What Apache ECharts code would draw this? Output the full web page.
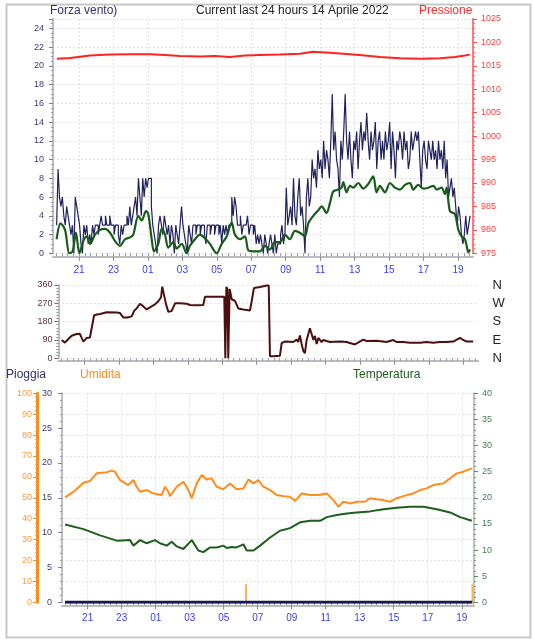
<!DOCTYPE html>
<html><head><meta charset="utf-8">
<script src="https://cdn.jsdelivr.net/npm/echarts@6/dist/echarts.min.js"></script>
<style>html,body{margin:0;padding:0;background:#fff}#c{width:534px;height:640px}</style>
</head><body><div id="c"></div>
<script>
// ---------- DATA (hours: 19.7 = 19:42 day 1, 24+ = next day) ----------
const hourTicks = [21, 23, 25, 27, 29, 31, 33, 35, 37, 39, 41, 43];
const pressure = [[19.72,1016.5],[20.48,1016.7],[21.64,1017.2],[22.8,1017.4],[23.96,1017.5],[25.12,1017.5],[25.99,1017.3],[26.86,1017.1],[28.02,1017.0],[28.89,1017.1],[29.76,1016.9],[30.63,1017.2],[31.5,1017.3],[32.66,1017.4],[33.83,1017.6],[34.58,1018.0],[35.57,1017.8],[36.73,1017.5],[37.6,1017.2],[38.47,1016.9],[39.63,1016.6],[40.79,1016.5],[41.95,1016.6],[42.82,1016.9],[43.4,1017.2],[43.69,1017.4]];
const windStart = 19.7, windStep = 1 / 12;
const windGust = [
 3,9,6,5,6,4,3,5,4,3,2,3,  0,6,5,4,3,1,0,3,2,3,1,2,  1,3,2,3,3,2,3,4,3,3,4,3,  3,4,3,3,2,3,3,2,1,3,2,3,
 3,4,3,5,3,4,5,6,4,8,6,4,  8,6,8,7,8,8,5,3,2,1,0,3,  4,3,2,4,3,2,3,1,3,2,0,3,  2,1,3,5,3,2,1,0,3,2,1,3,
 3,2,3,3,2,3,3,2,1,3,3,2,  3,3,2,3,3,2,3,1,3,2,3,2,  3,3,6,4,6,5,3,3,4,2,3,3,  3,4,2,3,3,2,3,1,2,1,2,1,
 0,2,1,0,1,2,1,0,2,0,1,1,  2,3,1,2,7,3,4,5,3,8,4,3,  6,8,4,5,3,0,6,8,5,6,10,8,  9,7,11,9,10,8,12,9,11,10,8,12,
 17,11,13,10,9,6,12,10,13,17,12,10,  13,10,8,12,11,13,9,12,14,11,13,12,  15,12,10,13,11,12,14,9,12,13,10,12,  10,13,11,12,14,9,13,11,8,12,11,13,
 12,10,13,11,12,9,10,13,11,12,13,12,  13,10,7,11,12,10,9,12,11,10,12,10,  11,9,12,10,11,9,12,8,10,6,7,8,  6,7,5,3,5,4,2,1,2,4,2,3,4];
const windAvg = [[19.70,1.5],[19.93,3.2],[20.19,2.5],[20.44,0],[20.63,0.2],[20.82,2.2],[21.02,0],[21.25,1.3],[21.44,1.8],[21.64,1.0],[21.93,2.0],[22.22,2.5],[22.51,2.6],[22.80,2.2],[23.09,1.3],[23.38,0.8],[23.67,1.5],[23.96,1.7],[24.15,2.0],[24.44,4.0],[24.64,3.5],[24.89,4.5],[25.02,4.2],[25.22,1.5],[25.35,0.2],[25.60,1.0],[25.80,2.6],[25.99,2.0],[26.18,0.6],[26.47,1.2],[26.67,0.5],[26.96,1.0],[27.25,0],[27.44,0.8],[27.73,1.5],[28.02,2.0],[28.31,1.6],[28.60,1.0],[28.99,0],[29.28,1.0],[29.57,1.8],[29.86,3.3],[30.05,2.0],[30.34,1.5],[30.63,1.8],[30.83,0.3],[31.12,0.2],[31.50,0.2],[31.79,0.8],[32.08,0.4],[32.37,1.2],[32.66,1.2],[32.95,2.0],[33.24,1.5],[33.53,2.4],[33.82,2.2],[34.11,1.8],[34.31,3.2],[34.60,4.0],[34.89,4.6],[35.08,5.0],[35.37,4.3],[35.57,5.4],[35.76,6.6],[36.05,6.8],[36.24,7.0],[36.34,7.6],[36.53,6.5],[36.73,7.2],[36.92,7.0],[37.21,7.5],[37.50,6.9],[37.79,7.4],[38.08,8.2],[38.27,6.5],[38.47,7.2],[38.76,6.5],[39.05,7.5],[39.34,7.0],[39.63,6.8],[39.92,7.3],[40.21,7.5],[40.40,6.8],[40.69,7.3],[40.99,6.9],[41.28,7.0],[41.57,7.2],[41.76,6.8],[42.05,7.0],[42.24,6.3],[42.34,7.0],[42.53,4.5],[42.82,4.2],[43.02,2.5],[43.21,1.8],[43.40,1.5],[43.50,0.8],[43.60,0.1],[43.70,0.4]];
const windDir = [[19.68,90],[19.87,77],[20.07,95],[20.26,111],[20.55,119],[20.74,120],[20.84,100],[20.94,82],[21.13,100],[21.32,102],[21.42,110],[21.56,210],[21.71,215],[21.91,218],[22.29,226],[22.87,225],[23.07,222],[23.26,200],[23.49,200],[23.74,206],[23.88,232],[24.03,245],[24.23,268],[24.42,255],[24.61,240],[24.9,255],[25.1,265],[25.29,280],[25.45,300],[25.52,352],[25.6,320],[25.74,265],[25.87,228],[26.06,232],[26.26,270],[26.55,270],[26.94,268],[27.13,262],[27.52,260],[27.9,262],[28.0,302],[28.48,302],[29.12,302],[29.18,0],[29.24,350],[29.3,340],[29.35,0],[29.43,340],[29.55,290],[29.74,282],[29.93,245],[30.22,240],[30.61,235],[30.71,280],[30.84,345],[31.19,350],[31.58,358],[31.7,358],[31.77,10],[31.96,10],[32.35,12],[32.45,75],[32.64,82],[33.12,80],[33.32,92],[33.41,80],[33.51,112],[33.61,70],[33.71,35],[33.8,25],[33.9,90],[34.09,148],[34.19,140],[34.29,90],[34.38,110],[34.48,70],[34.58,100],[34.77,80],[34.87,90],[35.25,80],[35.83,82],[36.22,80],[36.7,68],[37.19,92],[37.38,85],[37.96,86],[38.54,80],[38.93,90],[39.12,80],[39.51,80],[39.9,76],[40.48,76],[40.86,80],[41.25,76],[41.64,80],[42.02,80],[42.41,82],[42.8,100],[42.99,90],[43.18,82],[43.57,82]];
const humidity = [[19.67,50.2],[20.16,52.8],[20.75,57.2],[21.14,58.0],[21.53,61.7],[22.12,62.2],[22.41,63.0],[22.61,62.5],[22.9,58.5],[23.39,56.1],[23.69,58.5],[23.88,55.3],[24.08,52.9],[24.47,53.7],[24.86,52.1],[25.35,51.3],[25.55,55.3],[25.75,52.9],[25.84,50.8],[26.24,55.3],[26.63,57.7],[26.92,53.7],[27.12,49.8],[27.41,56.9],[27.71,60.9],[28.0,58.8],[28.29,59.3],[28.59,55.3],[28.98,54.1],[29.37,56.9],[29.76,54.1],[30.16,54.5],[30.45,58.8],[30.75,56.9],[31.04,58.5],[31.33,55.3],[31.73,53.7],[32.12,51.3],[32.51,50.8],[32.9,50.5],[33.2,48.5],[33.59,52.1],[34.08,51.3],[34.57,51.3],[35.06,52.1],[35.45,48.9],[35.75,45.7],[36.04,48.1],[36.43,47.3],[36.82,48.1],[37.31,48.1],[37.61,49.8],[38.0,49.3],[38.39,48.9],[38.78,48.1],[39.18,49.8],[39.76,51.3],[40.16,52.1],[40.55,53.7],[40.94,54.5],[41.33,56.1],[41.92,56.9],[42.31,59.3],[42.71,61.7],[43.1,62.5],[43.59,64.1]];
const temperature = [[19.67,14.9],[20.75,14.0],[21.73,12.8],[22.71,11.8],[23.49,11.9],[23.69,10.85],[24.08,11.9],[24.47,11.3],[24.96,11.9],[25.25,11.3],[25.65,10.85],[25.94,11.6],[26.24,10.7],[26.63,10.2],[27.12,11.9],[27.51,9.9],[27.8,9.6],[28.2,10.5],[28.59,10.5],[28.98,10.85],[29.18,10.4],[29.47,10.6],[29.76,10.5],[30.16,11.1],[30.35,9.9],[30.75,9.9],[31.14,10.85],[31.73,12.4],[32.31,13.7],[32.9,14.2],[33.49,15.3],[34.08,15.6],[34.67,15.6],[35.06,16.3],[35.65,16.7],[36.24,17.0],[36.82,17.2],[37.61,17.4],[38.39,17.8],[39.18,18.1],[39.96,18.3],[40.75,18.3],[41.53,17.8],[42.31,17.2],[42.9,16.3],[43.59,15.6]];
const rain = [[19.67,0],[43.62,0]];
const rainRate = [[30.31,2.6],[43.63,2.6]];
const compass = {0:'N', 90:'E', 180:'S', 270:'W', 360:'N'};

// ---------- CHART ----------
const FONT = '"Liberation Sans", Arial, sans-serif';
const tMin = 19.49;
const fmtHour = v => { const h = Math.round(v) % 24; return (h < 10 ? '0' : '') + h; };
const fineTicks = []; for (let k = 59; k <= 131; k++) fineTicks.push(k / 3);
const gridLine = {show: true, lineStyle: {color: '#e2e2e2', type: [2, 2], width: 1}};
const grayAxis = {show: true, onZero: false, lineStyle: {color: '#bdbdbd', width: 2}};

function xPair(gi, max, labels, offset, split) {
  return [
    {type: 'value', gridIndex: gi, min: tMin, max: max, position: 'bottom', offset: offset,
     axisLine: grayAxis,
     axisTick: {show: true, customValues: hourTicks, length: 4, lineStyle: {color: '#8a8aa8'}},
     axisLabel: {show: labels, customValues: hourTicks, formatter: fmtHour, color: '#3b3bf2', fontSize: 10, margin: 8, fontFamily: FONT},
     splitLine: split ? gridLine : {show: false}},
    {type: 'value', gridIndex: gi, min: tMin, max: max, position: 'bottom', offset: offset,
     axisLine: {show: false},
     axisTick: {show: true, customValues: fineTicks, length: 3, lineStyle: {color: '#9a9ab0'}},
     axisLabel: {show: false}, splitLine: {show: false}}
  ];
}

const xAxes = [].concat(xPair(0, 43.87, true, 3.5, true), xPair(1, 43.87, false, 2.5, false), xPair(2, 43.72, true, 3, true));

const yAxes = [
  {type: 'value', gridIndex: 0, min: 0, max: 25, interval: 2, position: 'left',
   axisLine: grayAxis, axisTick: {show: true, length: 4, lineStyle: {color: '#7a7a9a'}},
   minorTick: {show: true, splitNumber: 4, length: 2, lineStyle: {color: '#9a9ab0'}},
   axisLabel: {color: '#3a3a70', fontSize: 9, margin: 9, showMaxLabel: false, fontFamily: FONT},
   splitLine: gridLine},
  {type: 'value', gridIndex: 0, min: 975, max: 1025, interval: 5, position: 'right',
   axisLine: {show: true, lineStyle: {color: '#ff7a7a', width: 2}},
   axisTick: {show: true, length: 4, lineStyle: {color: '#ff4a4a'}},
   minorTick: {show: true, splitNumber: 5, length: 2, lineStyle: {color: '#ff6a6a'}},
   axisLabel: {color: '#ff3b3b', fontSize: 9, margin: 8, fontFamily: FONT, formatter: v => String(v)},
   splitLine: {show: false}},
  {type: 'value', gridIndex: 1, min: 0, max: 360, interval: 90, position: 'left',
   axisLine: grayAxis, axisTick: {show: true, length: 4, lineStyle: {color: '#7a6a6a'}},
   minorTick: {show: true, splitNumber: 6, length: 2, lineStyle: {color: '#9a8a8a'}},
   axisLabel: {color: '#5a3434', fontSize: 9, margin: 6, fontFamily: FONT},
   splitLine: gridLine},
  {type: 'value', gridIndex: 1, min: 0, max: 360, interval: 90, position: 'right',
   axisLine: {show: false}, axisTick: {show: false},
   axisLabel: {color: '#222', fontSize: 13, margin: 14, formatter: v => compass[v] || '', fontFamily: FONT},
   splitLine: {show: false}},
  {type: 'value', gridIndex: 2, min: 0, max: 30, interval: 5, position: 'left',
   axisLine: grayAxis, axisTick: {show: true, length: 4, lineStyle: {color: '#7a7a9a'}},
   minorTick: {show: true, splitNumber: 5, length: 2, lineStyle: {color: '#9a9ab0'}},
   axisLabel: {color: '#3a3a70', fontSize: 9, margin: 10, fontFamily: FONT},
   splitLine: {show: false}},
  {type: 'value', gridIndex: 2, min: 0, max: 100, interval: 10, position: 'left', offset: 25,
   axisLine: {show: true, onZero: false, lineStyle: {color: '#ff8c1a', width: 3}},
   axisTick: {show: true, length: 4, lineStyle: {color: '#ff8c1a'}},
   minorTick: {show: true, splitNumber: 5, length: 2, lineStyle: {color: '#ffa040'}},
   axisLabel: {color: '#ff9a3c', fontSize: 9, margin: 5, fontFamily: FONT},
   splitLine: gridLine},
  {type: 'value', gridIndex: 2, min: 0, max: 40, interval: 5, position: 'right',
   axisLine: {show: true, lineStyle: {color: '#b8c8b8', width: 2}},
   axisTick: {show: true, length: 4, lineStyle: {color: '#5a8a6a'}},
   minorTick: {show: true, splitNumber: 5, length: 2, lineStyle: {color: '#7a9a8a'}},
   axisLabel: {color: '#4a7a5a', fontSize: 9, margin: 8, fontFamily: FONT},
   splitLine: {show: false}}
];

const lineBase = {type: 'line', showSymbol: false, symbol: 'none', animation: false};
const gustData = windGust.map((v, i) => [windStart + i * windStep, v]);

const option = {
  animation: false,
  backgroundColor: '#ffffff',
  textStyle: {fontFamily: FONT},
  grid: [
    {left: 53, top: 19, width: 420, height: 234.3},
    {left: 58.4, top: 285, width: 420, height: 73.3},
    {left: 62, top: 393.3, width: 412, height: 209}
  ],
  xAxis: xAxes,
  yAxis: yAxes,
  graphic: [
    {type: 'rect', left: 4, top: 2, shape: {width: 524, height: 633}, style: {fill: 'none', stroke: '#c8c8c8', lineWidth: 2}, silent: true},
    {type: 'text', left: 50, top: 5, style: {text: 'Forza vento)', fill: '#33336b', font: '12px ' + FONT}},
    {type: 'text', left: 196, top: 5, style: {text: 'Current last 24 hours 14 Aprile 2022', fill: '#222', font: '12px ' + FONT}},
    {type: 'text', left: 419, top: 5, style: {text: 'Pressione', fill: '#ff2a2a', font: '12px ' + FONT}},
    {type: 'text', left: 6, top: 369, style: {text: 'Pioggia', fill: '#33336b', font: '12px ' + FONT}},
    {type: 'text', left: 80, top: 369, style: {text: 'Umidita', fill: '#ff8c1a', font: '12px ' + FONT}},
    {type: 'text', left: 353, top: 369, style: {text: 'Temperatura', fill: '#1d5e1d', font: '12px ' + FONT}}
  ],
  series: [
    Object.assign({}, lineBase, {name: 'Pressione', xAxisIndex: 0, yAxisIndex: 1, data: pressure, lineStyle: {color: '#ff2222', width: 2}, z: 3}),
    Object.assign({}, lineBase, {name: 'Forza vento', xAxisIndex: 0, yAxisIndex: 0, step: 'end', data: gustData, lineStyle: {color: '#22225e', width: 1.2}, z: 4}),
    Object.assign({}, lineBase, {name: 'Media vento', xAxisIndex: 0, yAxisIndex: 0, data: windAvg, smooth: 0.3, lineStyle: {color: '#1a5c1a', width: 2.2}, z: 5}),
    Object.assign({}, lineBase, {name: 'Direzione', xAxisIndex: 2, yAxisIndex: 2, data: windDir, lineStyle: {color: '#4d1010', width: 2}, z: 4}),
    Object.assign({}, lineBase, {name: 'Pioggia', xAxisIndex: 4, yAxisIndex: 4, data: rain, lineStyle: {color: '#16165a', width: 3}, z: 6}),
    {type: 'bar', name: 'Intensita', xAxisIndex: 4, yAxisIndex: 4, data: rainRate, barWidth: 2, itemStyle: {color: '#ffb060'}, animation: false, z: 5},
    Object.assign({}, lineBase, {name: 'Umidita', xAxisIndex: 4, yAxisIndex: 5, data: humidity, lineStyle: {color: '#ff8c1a', width: 2}, z: 4}),
    Object.assign({}, lineBase, {name: 'Temperatura', xAxisIndex: 4, yAxisIndex: 6, data: temperature, lineStyle: {color: '#1d5e1d', width: 2}, z: 4})
  ]
};

const chart = echarts.init(document.getElementById('c'), null, {renderer: 'canvas'});
chart.setOption(option);
</script></body></html>
